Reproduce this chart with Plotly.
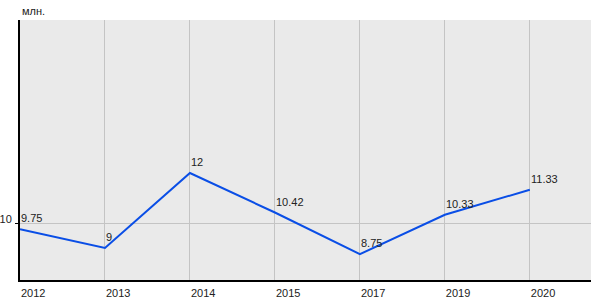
import plotly.graph_objects as go

years = ["2012", "2013", "2014", "2015", "2017", "2019", "2020"]
values = [9.75, 9, 12, 10.42, 8.75, 10.33, 11.33]
labels = ["9.75", "9", "12", "10.42", "8.75", "10.33", "11.33"]
y_ticks = [10]
y_tick_text = ["10"]
unit = "млн."

fig = go.Figure()
fig.add_trace(go.Scatter(
    x=list(range(len(years))), y=values, mode="lines",
    line=dict(color="#0a4ee6", width=2), hoverinfo="skip", showlegend=False,
))
for i, (v, t) in enumerate(zip(values, labels)):
    fig.add_annotation(x=i, y=v, text=t, showarrow=False, xanchor="left", yanchor="bottom",
                       xshift=-1, yshift=3, font=dict(family="Arial, Liberation Sans", size=11, color="#222"))

fig.add_annotation(xref="paper", yref="paper", x=0, y=1, xanchor="left", yanchor="bottom",
                   yshift=1, text=unit, showarrow=False,
                   font=dict(family="Arial, Liberation Sans", size=11, color="#222"))

fig.update_layout(
    width=600, height=300,
    margin=dict(l=20, r=9, t=20, b=20),
    paper_bgcolor="white", plot_bgcolor="#eaeaea",
    font=dict(family="Arial, Liberation Sans", size=11, color="#222"),
    xaxis=dict(
        tickmode="array", tickvals=list(range(len(years))), ticktext=years,
        range=[0, 6.72], showgrid=True, gridcolor="#c4c4c4", gridwidth=1,
        showline=True, linecolor="black", linewidth=2, zeroline=False,
        ticks="", ticklabelposition="outside right", fixedrange=True,
        automargin=False, ticklabelstandoff=2,
    ),
    yaxis=dict(
        tickmode="array", tickvals=y_ticks, ticktext=y_tick_text,
        range=[7.72, 18.12], showgrid=True, gridcolor="#c4c4c4", gridwidth=1,
        showline=True, linecolor="black", linewidth=2, zeroline=False,
        ticks="outside", ticklen=3, tickcolor="black", fixedrange=True,
        automargin=False, ticklabelstandoff=1, ticklabelshift=-4,
    ),
)
fig.write_html("out.html")
